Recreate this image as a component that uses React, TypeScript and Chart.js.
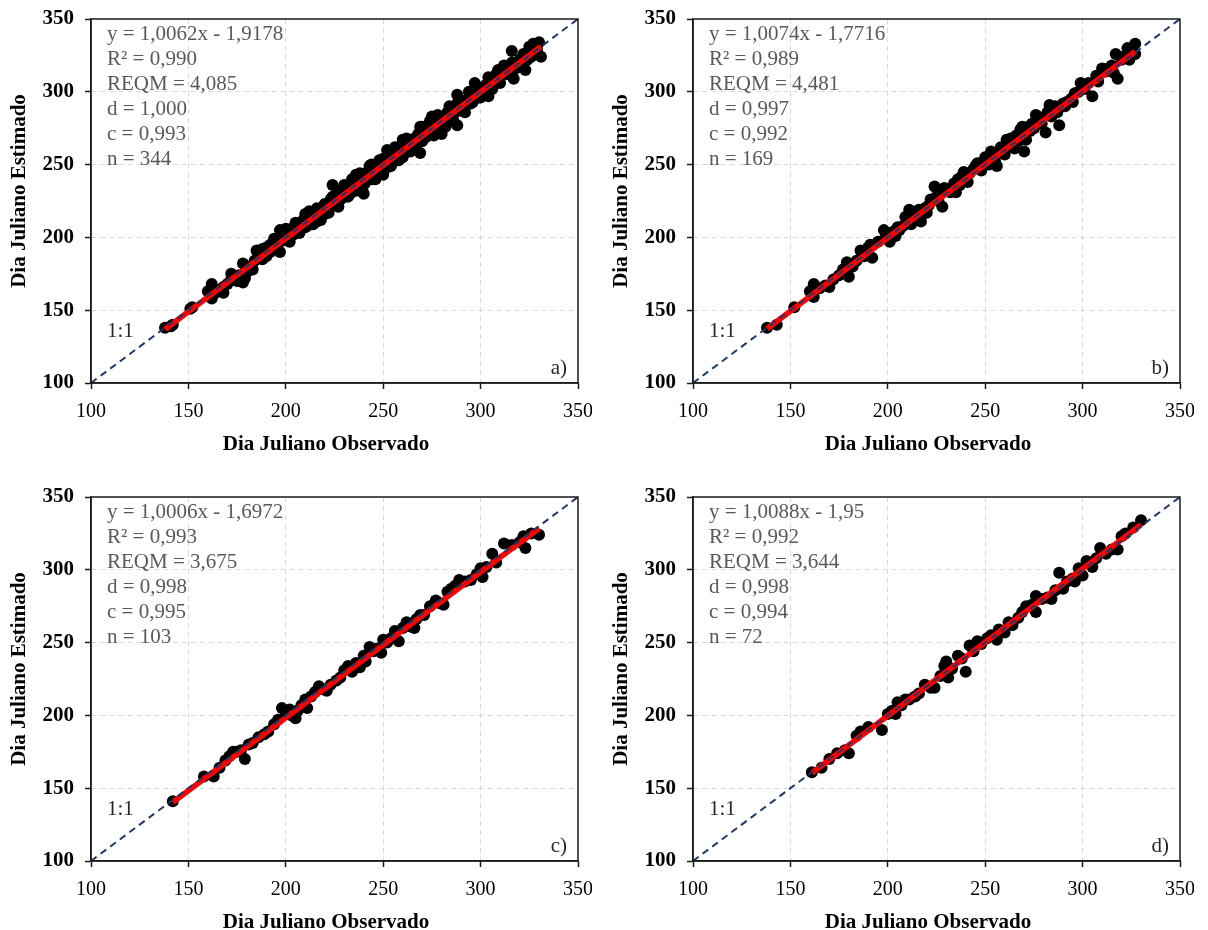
import React, { useEffect, useRef } from "react";
import { Chart, registerables } from "chart.js";

Chart.register(...registerables);

// ---------- DATA ----------
const xTicks = [100, 150, 200, 250, 300, 350];
const axisMin = 100;
const axisMax = 350;

const panelLabels = ["a)", "b)", "c)", "d)"];
const eqTexts = ["y = 1,0062x - 1,9178", "y = 1,0074x - 1,7716", "y = 1,0006x - 1,6972", "y = 1,0088x - 1,95"];
const slopes = [1.0062, 1.0074, 1.0006, 1.0088];
const intercepts = [-1.9178, -1.7716, -1.6972, -1.95];
const r2Values = ["0,990", "0,989", "0,993", "0,992"];
const reqmValues = ["4,085", "4,481", "3,675", "3,644"];
const dValues = ["1,000", "0,997", "0,998", "0,998"];
const cValues = ["0,993", "0,992", "0,995", "0,994"];
const nValues = ["344", "169", "103", "72"];

const xTitle = "Dia Juliano Observado";
const yTitle = "Dia Juliano Estimado";
const oneToOneLabel = "1:1";

// [observed, estimated]
const pointsA: number[][] = [
  [138, 138], [142, 140], [141, 139], [152, 152], [151, 151], [160, 163], [162, 168], [162, 158], [164, 162], [166, 164],
  [168, 166], [170, 168], [172, 171], [174, 173], [176, 174], [178, 182], [178, 169], [179, 172], [180, 176], [182, 180],
  [184, 184], [185, 191], [187, 187], [188, 185], [190, 187], [190, 193], [192, 190], [194, 194], [196, 195], [197, 205],
  [197, 190], [198, 200], [199, 203], [200, 198], [201, 204], [202, 200], [203, 206], [204, 202], [205, 207], [206, 204],
  [207, 209], [208, 206], [209, 212], [210, 216], [211, 208], [212, 214], [213, 210], [214, 217], [215, 212], [216, 211],
  [217, 219], [218, 215], [219, 218], [220, 216], [221, 222], [222, 220], [223, 226], [224, 236], [225, 222], [226, 229],
  [227, 221], [228, 232], [229, 227], [230, 233], [231, 229], [232, 235], [233, 230], [234, 237], [235, 233], [236, 243],
  [237, 236], [238, 239], [239, 234], [240, 230], [240, 242], [241, 238], [242, 245], [243, 249], [244, 240], [245, 246],
  [246, 243], [247, 249], [248, 244], [249, 251], [250, 243], [250, 248], [251, 253], [252, 260], [253, 250], [254, 256],
  [255, 252], [256, 258], [257, 254], [258, 253], [259, 262], [260, 267], [261, 258], [262, 264], [263, 260], [264, 266],
  [265, 262], [266, 268], [267, 263], [268, 271], [269, 276], [269, 258], [270, 266], [271, 272], [272, 269], [273, 275],
  [274, 271], [275, 283], [276, 274], [277, 279], [278, 275], [279, 282], [280, 271], [281, 283], [282, 280], [283, 286],
  [284, 282], [285, 287], [286, 284], [288, 298], [288, 277], [289, 290], [290, 287], [291, 293], [292, 290], [294, 296],
  [295, 292], [297, 306], [298, 300], [299, 296], [300, 302], [301, 299], [303, 305], [304, 297], [305, 308], [307, 305],
  [309, 315], [310, 310], [312, 314], [314, 312], [316, 328], [317, 309], [318, 320], [320, 322], [321, 318], [323, 315],
  [324, 326], [326, 329], [327, 333], [328, 331], [330, 334], [331, 324],
  [200, 206], [202, 197], [205, 210], [207, 203], [210, 207], [212, 218], [214, 209], [216, 220], [218, 212], [220, 223],
  [222, 217], [224, 228], [226, 222], [228, 226], [230, 236], [232, 228], [234, 240], [236, 232], [238, 244], [240, 236],
  [242, 240], [244, 250], [246, 240], [248, 253], [250, 254], [252, 248], [254, 249], [256, 262], [258, 262], [260, 255],
  [262, 268], [264, 259], [266, 263], [268, 265], [270, 276], [272, 273], [274, 280], [276, 270], [278, 284], [280, 278],
  [282, 276], [284, 290], [286, 280], [288, 292], [290, 294], [292, 286], [294, 300], [296, 293], [298, 304], [300, 296],
  [302, 300], [304, 310], [306, 302], [308, 312], [310, 306], [312, 318], [314, 316], [316, 320], [318, 316], [320, 318],
  [322, 326], [324, 322], [326, 324], [325, 331], [329, 329], [185, 185], [183, 178], [172, 175], [168, 162], [175, 170],
  [194, 199], [192, 195], [188, 192],
];

const pointsB: number[][] = [
  [138, 138], [143, 140], [152, 152], [160, 163], [162, 168], [162, 159], [165, 165], [168, 167], [170, 166], [172, 171],
  [175, 174], [177, 178], [179, 183], [180, 173], [182, 180], [184, 184], [186, 191], [188, 187], [190, 193], [191, 195],
  [192, 186], [195, 197], [198, 205], [199, 201], [201, 197], [203, 204], [205, 207], [206, 205], [208, 208], [210, 212],
  [211, 219], [213, 216], [215, 214], [217, 211], [219, 220], [221, 222], [222, 226], [224, 235], [225, 228], [227, 230],
  [228, 221], [230, 233], [232, 231], [234, 237], [236, 240], [237, 236], [239, 245], [240, 242], [242, 244], [244, 247],
  [246, 251], [247, 248], [249, 252], [251, 255], [253, 259], [254, 256], [256, 249], [257, 258], [259, 262], [261, 267],
  [262, 263], [264, 265], [266, 270], [268, 274], [270, 259], [270, 271], [272, 276], [274, 278], [276, 284], [278, 280],
  [281, 272], [282, 286], [283, 291], [285, 288], [288, 277], [290, 292], [292, 293], [294, 295], [296, 299], [299, 306],
  [301, 302], [305, 297], [307, 311], [310, 316], [312, 314], [315, 318], [317, 326], [318, 309], [320, 322], [323, 330],
  [325, 328], [327, 333], [327, 326],
  [200, 203], [204, 201], [209, 214], [212, 209], [216, 219], [220, 217], [226, 225], [229, 234], [233, 234], [235, 231],
  [238, 242], [241, 238], [245, 249], [248, 246], [250, 255], [252, 250], [255, 253], [258, 262], [260, 257], [263, 268],
  [265, 261], [267, 266], [269, 276], [271, 267], [273, 273], [275, 275], [277, 283], [279, 278], [284, 283], [286, 290],
  [287, 286], [291, 290], [295, 293], [298, 300], [303, 306], [308, 307], [313, 316], [316, 313], [322, 325], [324, 322],
];

const pointsC: number[][] = [
  [142, 141], [158, 158], [163, 158], [166, 164], [169, 169], [171, 172], [173, 175], [175, 175], [177, 176], [179, 170],
  [181, 180], [183, 181], [186, 185], [189, 187], [191, 189], [194, 194], [196, 197], [198, 205], [200, 201], [202, 204],
  [203, 200], [205, 198], [206, 203], [208, 207], [210, 211], [211, 205], [213, 213], [215, 216], [217, 220], [219, 218],
  [221, 217], [223, 221], [226, 224], [228, 226], [230, 231], [232, 234], [234, 230], [236, 236], [238, 233], [240, 241],
  [241, 237], [243, 247], [245, 244], [247, 246], [249, 243], [250, 252], [252, 250], [254, 253], [256, 258], [258, 251],
  [260, 260], [262, 264], [264, 261], [266, 260], [267, 266], [269, 269], [271, 269], [274, 275], [277, 279], [279, 277],
  [281, 276], [283, 285], [285, 287], [287, 289], [289, 293], [292, 292], [295, 293], [298, 297], [300, 301], [301, 295],
  [303, 302], [306, 311], [308, 305], [312, 318], [316, 317], [320, 319], [322, 323], [323, 315], [326, 325], [330, 324],
];

const pointsD: number[][] = [
  [161, 161], [166, 164], [170, 170], [174, 174], [178, 176], [180, 174], [184, 186], [186, 189], [190, 192], [197, 190],
  [200, 201], [202, 203], [204, 201], [205, 209], [207, 207], [209, 211], [211, 211], [214, 213], [216, 215], [219, 221],
  [222, 219], [224, 219], [227, 227], [229, 234], [230, 237], [231, 226], [233, 232], [236, 241], [238, 239], [240, 230],
  [242, 248], [244, 244], [246, 251], [248, 249], [251, 253], [253, 255], [256, 252], [257, 259], [260, 257], [262, 264],
  [264, 262], [267, 267], [269, 271], [271, 275], [274, 276], [276, 282], [276, 271], [279, 280], [282, 281], [284, 280],
  [286, 286], [288, 298], [290, 287], [292, 292], [295, 294], [296, 292], [298, 301], [300, 296], [302, 306], [305, 302],
  [307, 308], [309, 315], [312, 311], [315, 314], [318, 314], [320, 323], [322, 325], [326, 329], [330, 334],
];

const allPoints = [pointsA, pointsB, pointsC, pointsD];

// ---------- LAYOUT ----------
const PANEL_W = 592;
const PANEL_H = 478;
const CANVAS_W = 604;
const panelOffsets = [
  [0, 0],
  [602, 0],
  [0, 478],
  [602, 478],
];
const SERIF = "'Liberation Serif', 'Times New Roman', serif";

function Panel({ idx }: { idx: number }) {
  const ref = useRef<HTMLCanvasElement | null>(null);
  useEffect(() => {
    const canvas = ref.current;
    if (!canvas) return;
    const pts = allPoints[idx];
    const xs = pts.map((p) => p[0]);
    const xMinData = Math.min(...xs);
    const xMaxData = Math.max(...xs);
    const m = slopes[idx];
    const b = intercepts[idx];

    const textPlugin = {
      id: "panelText",
      afterDraw(chart: any) {
        const ctx = chart.ctx;
        const ca = chart.chartArea;
        ctx.save();
        ctx.strokeStyle = "#1a1a1a";
        ctx.lineWidth = 1.5;
        ctx.setLineDash([]);
        ctx.strokeRect(ca.left, ca.top, ca.right - ca.left, ca.bottom - ca.top);

        ctx.fillStyle = "#595959";
        ctx.font = `21px ${SERIF}`;
        ctx.textAlign = "left";
        ctx.textBaseline = "middle";
        const lines = [
          eqTexts[idx],
          `R² = ${r2Values[idx]}`,
          `REQM = ${reqmValues[idx]}`,
          `d = ${dValues[idx]}`,
          `c = ${cValues[idx]}`,
          `n = ${nValues[idx]}`,
        ];
        lines.forEach((t, i) => ctx.fillText(t, ca.left + 16, ca.top + 15 + i * 25));

        ctx.fillStyle = "#262626";
        ctx.fillText(oneToOneLabel, ca.left + 16, ca.bottom - 52);
        ctx.textAlign = "right";
        ctx.fillText(panelLabels[idx], ca.right - 11, ca.bottom - 15);

        ctx.fillStyle = "#000000";
        ctx.font = `bold 21px ${SERIF}`;
        ctx.textAlign = "center";
        ctx.fillText(xTitle, 326, 445);
        ctx.translate(20, 191);
        ctx.rotate(-Math.PI / 2);
        ctx.fillText(yTitle, 0, 0);
        ctx.restore();
      },
    };

    const gridColor = (c: any) => {
      const v = c.tick ? c.tick.value : 0;
      return v === axisMin || v === axisMax ? "rgba(0,0,0,0)" : "#d9d9d9";
    };

    const chart = new Chart(canvas, {
      type: "scatter",
      data: {
        datasets: [
          {
            label: "1:1",
            data: [
              { x: axisMin, y: axisMin },
              { x: axisMax, y: axisMax },
            ],
            showLine: true,
            borderColor: "#1f3864",
            borderWidth: 2,
            borderDash: [7, 5],
            pointRadius: 0,
            fill: false,
          },
          {
            label: "Regressão",
            data: [
              { x: xMinData, y: m * xMinData + b },
              { x: xMaxData, y: m * xMaxData + b },
            ],
            showLine: true,
            borderColor: "#ff0000",
            borderWidth: 5.5,
            pointRadius: 0,
            fill: false,
          },
          {
            label: "Dados",
            data: pts.map((p) => ({ x: p[0], y: p[1] })),
            backgroundColor: "#000000",
            borderWidth: 0,
            pointRadius: 6,
            pointHoverRadius: 6,
          },
        ],
      },
      options: {
        animation: false,
        responsive: false,
        maintainAspectRatio: false,
        devicePixelRatio: 1,
        layout: { padding: { left: 0, top: 19, right: CANVAS_W - 578, bottom: 0 } },
        plugins: { legend: { display: false }, tooltip: { enabled: false }, title: { display: false } },
        scales: {
          x: {
            type: "linear",
            min: axisMin,
            max: axisMax,
            afterBuildTicks: (s: any) => {
              s.ticks = xTicks.map((v) => ({ value: v }));
            },
            afterFit: (s: any) => {
              s.height = PANEL_H - 383;
              s.paddingLeft = 0;
              s.paddingRight = 0;
            },
            ticks: {
              color: "#000000",
              font: { family: SERIF, size: 20 },
              padding: 11,
              maxRotation: 0,
            },
            grid: {
              color: gridColor,
              lineWidth: 1,
              tickColor: "#1a1a1a",
              tickLength: 6,
              tickWidth: 1.5,
            },
            border: { display: true, color: "#1a1a1a", width: 1.5, dash: [5, 4] },
          },
          y: {
            type: "linear",
            min: axisMin,
            max: axisMax,
            afterBuildTicks: (s: any) => {
              s.ticks = xTicks.map((v) => ({ value: v }));
            },
            afterFit: (s: any) => {
              s.width = 91;
              s.paddingTop = 0;
              s.paddingBottom = 0;
            },
            ticks: {
              color: "#000000",
              font: { family: SERIF, size: 21, weight: "bold" },
              padding: 11,
            },
            grid: {
              color: gridColor,
              lineWidth: 1,
              tickColor: "#1a1a1a",
              tickLength: 6,
              tickWidth: 1.5,
            },
            border: { display: true, color: "#1a1a1a", width: 1.5, dash: [5, 4] },
          },
        },
      },
      plugins: [textPlugin],
    } as any);
    return () => chart.destroy();
  }, [idx]);

  const [left, top] = panelOffsets[idx];
  return (
    <div
      style={{
        position: "absolute",
        left,
        top,
        width: PANEL_W,
        height: PANEL_H,
        overflow: "hidden",
        background: "#ffffff",
      }}
    >
      <canvas ref={ref} width={CANVAS_W} height={PANEL_H} style={{ display: "block", width: CANVAS_W, height: PANEL_H }} />
    </div>
  );
}

export default function App() {
  return (
    <div style={{ position: "absolute", left: 0, top: 0, width: 1208, height: 930, background: "#ffffff" }}>
      {[0, 1, 2, 3].map((i) => (
        <Panel key={i} idx={i} />
      ))}
    </div>
  );
}
